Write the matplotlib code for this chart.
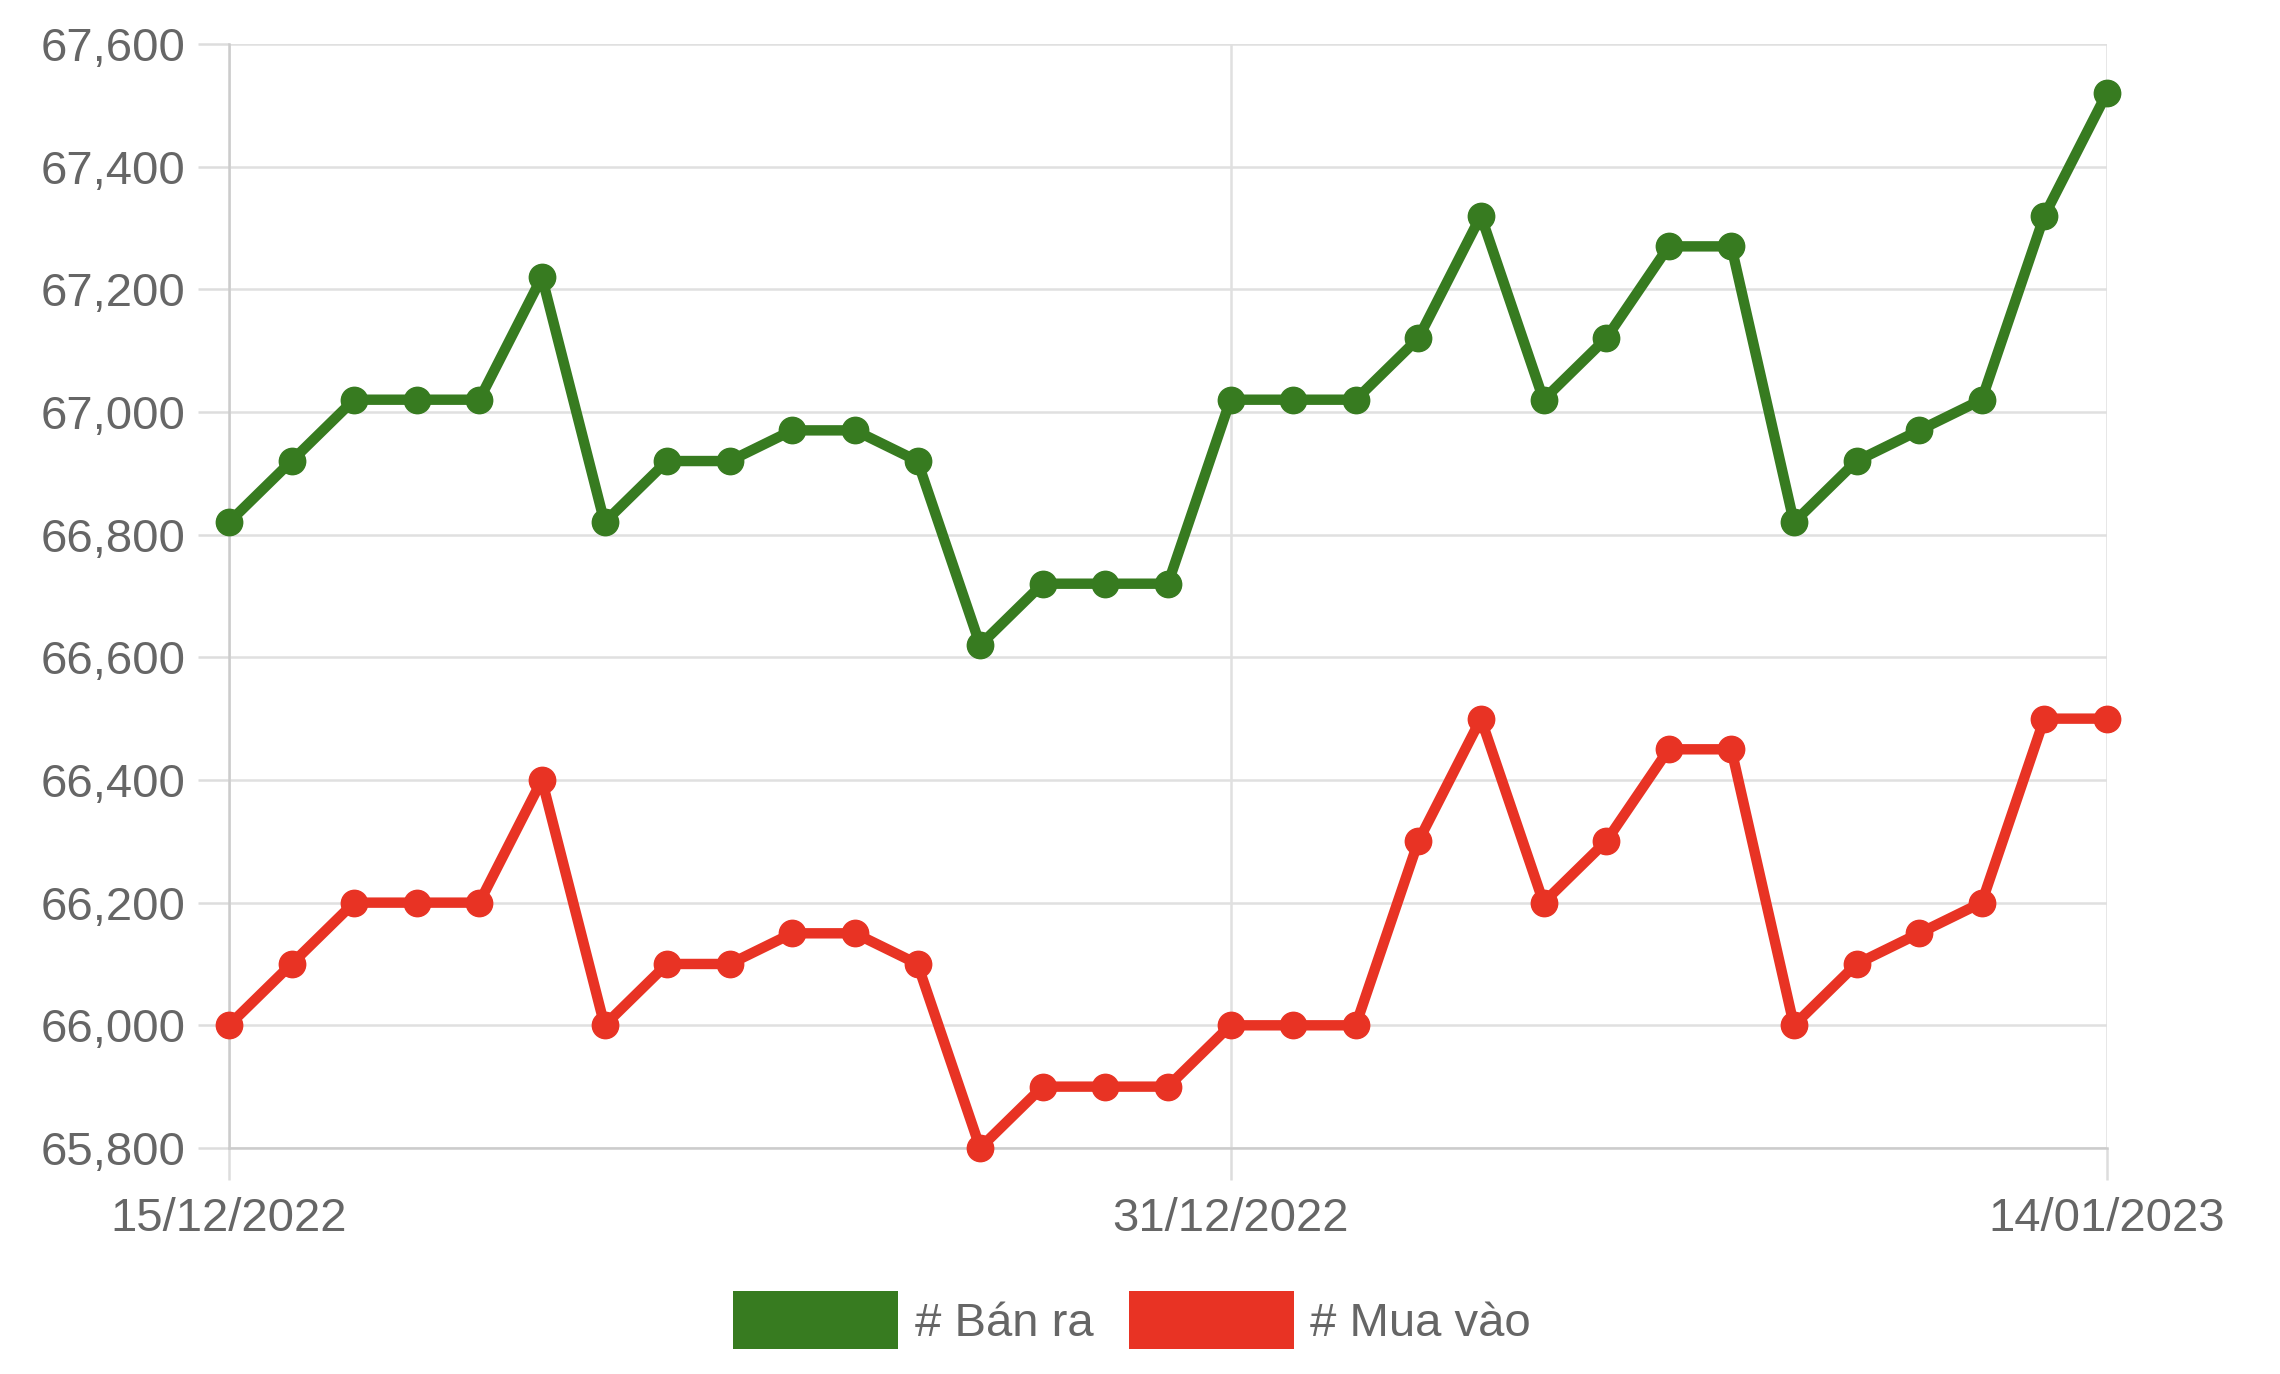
import matplotlib.pyplot as plt
from matplotlib.patches import Patch
from matplotlib.ticker import FuncFormatter

# Gold price, 15/12/2022 -> 14/01/2023 (daily)
dates = ['15/12/2022', '16/12/2022', '17/12/2022', '18/12/2022', '19/12/2022', '20/12/2022',
         '21/12/2022', '22/12/2022', '23/12/2022', '24/12/2022', '25/12/2022', '26/12/2022',
         '27/12/2022', '28/12/2022', '29/12/2022', '30/12/2022', '31/12/2022', '01/01/2023',
         '02/01/2023', '03/01/2023', '04/01/2023', '05/01/2023', '06/01/2023', '07/01/2023',
         '08/01/2023', '09/01/2023', '10/01/2023', '11/01/2023', '12/01/2023', '13/01/2023',
         '14/01/2023']
ban_ra = [66820, 66920, 67020, 67020, 67020, 67220, 66820, 66920, 66920, 66970, 66970,
          66920, 66620, 66720, 66720, 66720, 67020, 67020, 67020, 67120, 67320, 67020,
          67120, 67270, 67270, 66820, 66920, 66970, 67020, 67320, 67520]
mua_vao = [66000, 66100, 66200, 66200, 66200, 66400, 66000, 66100, 66100, 66150, 66150,
           66100, 65800, 65900, 65900, 65900, 66000, 66000, 66000, 66300, 66500, 66200,
           66300, 66450, 66450, 66000, 66100, 66150, 66200, 66500, 66500]
shown_ticks = ['15/12/2022', '31/12/2022', '14/01/2023']
y_ticks = list(range(65800, 67601, 200))

green = '#377b20'
red = '#e83324'
text_col = '#666666'

plt.rcParams['font.family'] = ['Liberation Sans', 'DejaVu Sans']

fig = plt.figure(figsize=(22.8, 13.74), dpi=100)
ax = fig.add_axes([0.1004, 0.1645, 0.8237, 0.8035])

x = list(range(len(dates)))
for vals, col in [(ban_ra, green), (mua_vao, red)]:
    ax.plot(x, vals, color=col, lw=7.5, marker='o', ms=19, zorder=3, clip_on=False,
            solid_joinstyle='round', solid_capstyle='round')

ax.set_xlim(0, len(dates) - 1)
ax.set_ylim(65800, 67600)
ax.set_yticks(y_ticks)
ax.yaxis.set_major_formatter(FuncFormatter(lambda v, p: f'{int(v):,}'))
ax.set_xticks([dates.index(d) for d in shown_ticks])
ax.set_xticklabels(shown_ticks)

ax.grid(True, color='#e0e0e0', lw=1.8)
ax.set_axisbelow(True)
for side in ['top', 'right']:
    ax.spines[side].set_visible(False)
for side in ['left', 'bottom']:
    ax.spines[side].set_color('#cccccc')
    ax.spines[side].set_linewidth(1.8)
ax.tick_params(axis='both', colors='#dddddd', width=1.8, labelsize=34, labelcolor=text_col)
ax.tick_params(axis='y', length=22, pad=9)
ax.tick_params(axis='x', length=23, pad=12)

handles = [Patch(facecolor=green, label='# Bán ra'), Patch(facecolor=red, label='# Mua vào')]
fig.legend(handles=handles, loc='center', bbox_to_anchor=(0.4965, 0.0393), ncol=2,
           frameon=False, fontsize=34, labelcolor=text_col, handlelength=3.5,
           handleheight=1.5, handletextpad=0.35, columnspacing=0.75)

fig.savefig('out.png', dpi=100, facecolor='white')
